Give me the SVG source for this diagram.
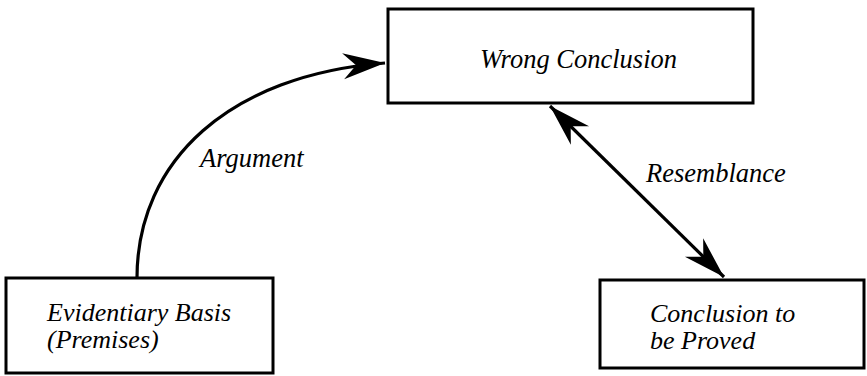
<svg xmlns="http://www.w3.org/2000/svg" width="867" height="376" viewBox="0 0 867 376">
<style>
.box{fill:#fff;stroke:#000;stroke-width:3}
.lbl{font-family:"Liberation Serif","Times New Roman",serif;font-style:italic;font-size:26.5px;fill:#000}
.ml{font-size:26px}
.conn{fill:none;stroke:#000;stroke-width:3.2}
</style>
<defs>
<marker id="ah" markerUnits="userSpaceOnUse" markerWidth="50" markerHeight="34" viewBox="-44 -17 50 34" refX="0" refY="0" orient="auto-start-reverse">
<path d="M0,0 L-42,-13 L-29,0 L-42,13 Z" fill="#000"/>
</marker>
</defs>
<rect width="867" height="376" fill="#fff"/>
<g id="connectors">
<path class="conn" d="M137,278 C137,160 230,75 385,63" marker-end="url(#ah)"/>
<path class="conn" d="M550,106 L724,277" marker-start="url(#ah)" marker-end="url(#ah)"/>
<text class="lbl" x="200" y="167">Argument</text>
<text class="lbl" x="646" y="182">Resemblance</text>
</g>
<g id="wrong-conclusion">
<rect class="box" x="388" y="9" width="365" height="94"/>
<text class="lbl" x="480" y="68">Wrong Conclusion</text>
</g>
<g id="evidentiary-basis">
<rect class="box" x="6" y="278" width="267" height="95"/>
<text class="lbl ml" x="47" y="321">Evidentiary Basis</text>
<text class="lbl ml" x="47" y="348">(Premises)</text>
</g>
<g id="conclusion-to-be-proved">
<rect class="box" x="600" y="280" width="264" height="88"/>
<text class="lbl ml" x="650" y="322">Conclusion to</text>
<text class="lbl ml" x="650" y="349">be Proved</text>
</g>
</svg>
